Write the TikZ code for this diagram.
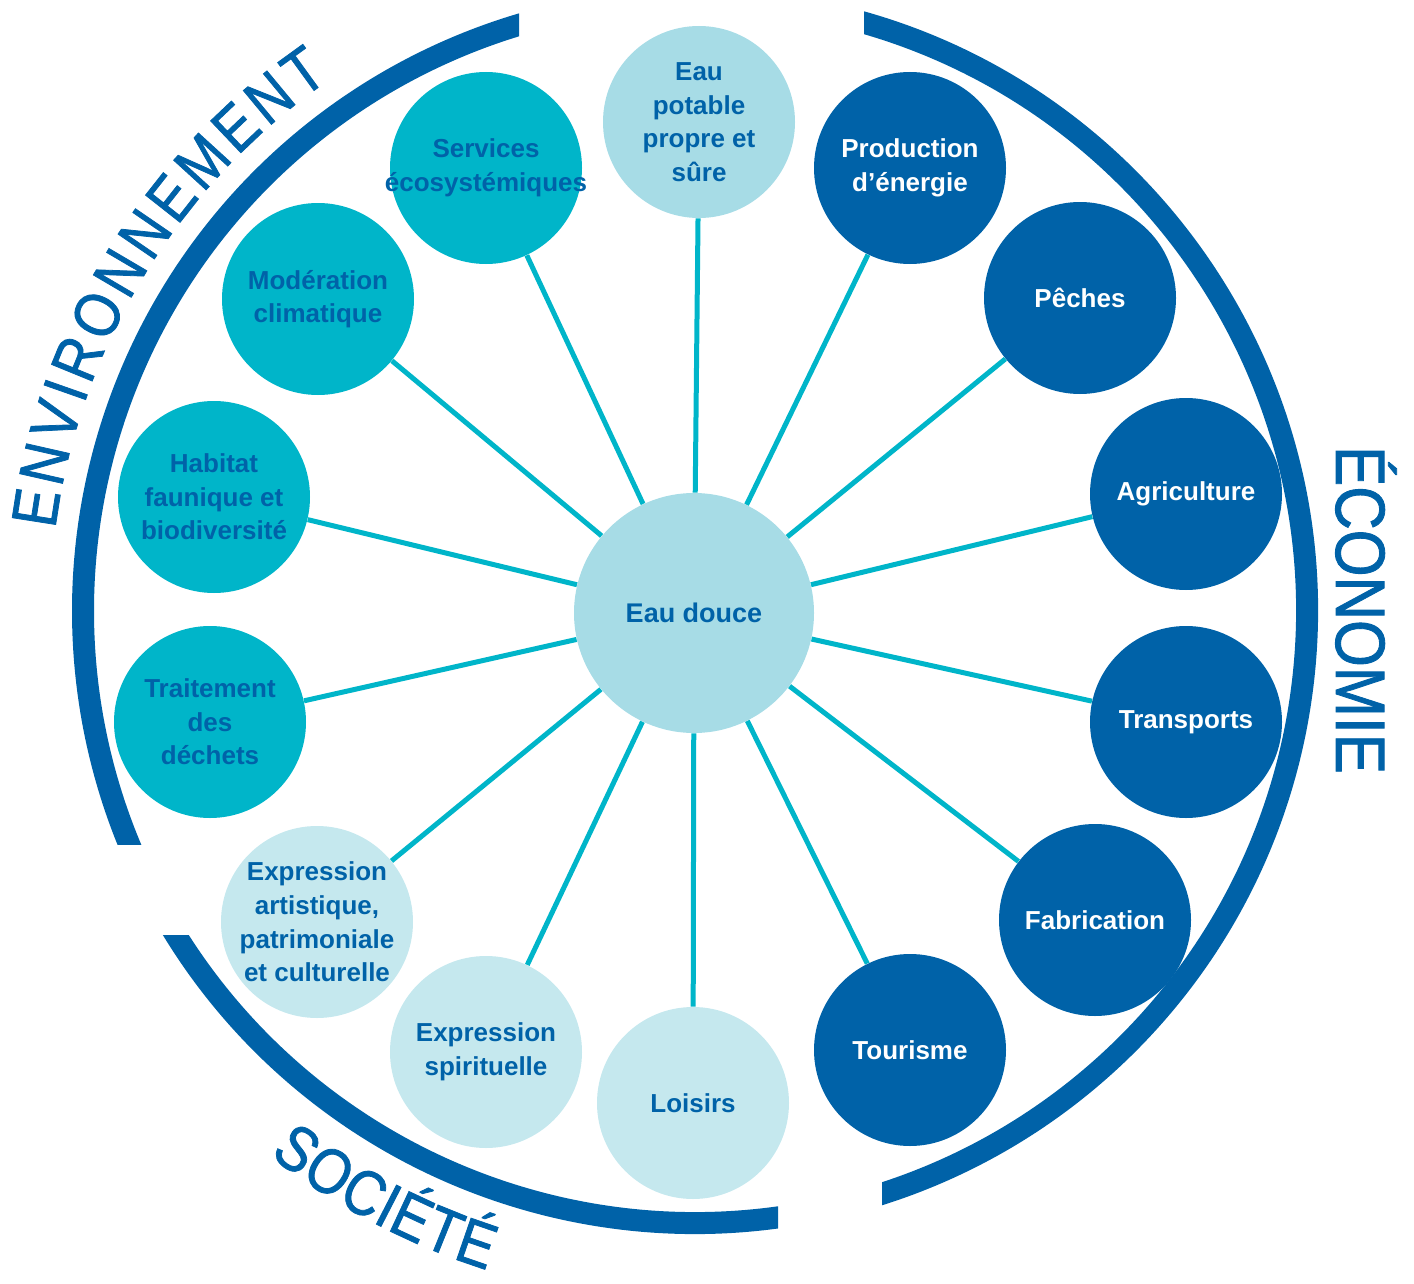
\documentclass[tikz,border=0pt]{standalone}
\usepackage{fontspec}
\setmainfont{Liberation Sans}
\newfontfamily\ringfont[FakeStretch=0.86,FakeBold=1.2]{Liberation Sans}
\usetikzlibrary{decorations.text}
\definecolor{ecoblue}{HTML}{0062A8}
\definecolor{envteal}{HTML}{00B5C9}
\definecolor{hubpale}{HTML}{A7DCE6}
\definecolor{socpale}{HTML}{C5E8EE}

\begin{document}
\begin{tikzpicture}[x=0.5pt,y=0.5pt]
      \tikzset{
        spoke/.style={circle,inner sep=-8pt,minimum size=96pt,align=center,
          font=\bfseries\fontsize{13}{16.8}\selectfont},
        hub/.style={spoke,fill=hubpale,text=ecoblue},
        env/.style={spoke,fill=envteal,text=ecoblue},
        econ/.style={spoke,fill=ecoblue,text=white},
        soc/.style={spoke,fill=socpale,text=ecoblue},
        ring/.style={draw=ecoblue,line width=11pt},
        link/.style={draw=envteal,line width=2.5pt},
        ringtext/.style={decorate,decoration={text along path,text align={fit to path},
          text color=ecoblue,text={|\ringfont\fontsize{32}{32}\selectfont|#1}}}
      }
      \useasboundingbox (0,0) rectangle (1414,-1284);

      \begin{scope}
        \clip (0,0) rectangle (519,-844);
        \draw[ring] (695,-611) ++(100:612) arc[start angle=100,end angle=212,radius=612];
      \end{scope}
      \begin{scope}
        \clip (864,0) -- (1414,0) -- (1414,-1284) -- (882,-1284) -- (882,-611) -- (864,-611) -- cycle;
        \draw[ring] (695,-611) ++(80:612) arc[start angle=80,end angle=-80,radius=612];
      \end{scope}
      \begin{scope}
        \clip (0,-935) rectangle (778,-1284);
        \draw[ring] (695,-611) ++(205:612) arc[start angle=205,end angle=285,radius=612];
      \end{scope}

      \path[ringtext=ENVIRONNEMENT] (695,-611) ++(172.7:645) arc[start angle=172.7,end angle=124.5,radius=645];
      \path[ringtext=SOCIÉTÉ] (695,-611) ++(232:691) arc[start angle=232,end angle=252.5,radius=691];
      \node[rotate=-90,anchor=base,text=ecoblue,font=\ringfont\fontsize{35}{35}\selectfont] (economie) at (1336,-610) {ÉCONOMIE};

      \node[hub,minimum size=120pt,font=\bfseries\fontsize{13.5}{16}\selectfont] (douce) at (694,-613) {Eau douce};
      \node[hub] (potable) at (699,-122) {Eau\\potable\\propre et\\sûre};
      \node[econ] (energie) at (910,-168) {Production\\d’énergie};
      \node[econ] (peches) at (1080,-298) {Pêches};
      \node[econ] (agri) at (1186,-494) {Agriculture};
      \node[econ] (transports) at (1186,-722) {Transports};
      \node[econ] (fabrication) at (1095,-920) {Fabrication};
      \node[econ] (tourisme) at (910,-1050) {Tourisme};
      \node[soc] (loisirs) at (693,-1103) {Loisirs};
      \node[soc] (spirit) at (486,-1052) {Expression\\spirituelle};
      \node[soc] (artist) at (317,-922) {Expression\\artistique,\\patrimoniale\\et culturelle};
      \node[env] (dechets) at (210,-722) {Traitement\\des\\déchets};
      \node[env] (habitat) at (214,-497) {Habitat\\faunique et\\biodiversité};
      \node[env] (climat) at (318,-299) {Modération\\climatique};
      \node[env] (services) at (486,-168) {Services\\écosystémiques};

      \draw[link] (douce) edge (potable)
            (douce) edge (energie)
            (douce) edge (peches)
            (douce) edge (agri)
            (douce) edge (transports)
            (douce) edge (fabrication)
            (douce) edge (tourisme)
            (douce) edge (loisirs)
            (douce) edge (spirit)
            (douce) edge (artist)
            (douce) edge (dechets)
            (douce) edge (habitat)
            (douce) edge (climat)
            (douce) edge (services);
\end{tikzpicture}
\end{document}
